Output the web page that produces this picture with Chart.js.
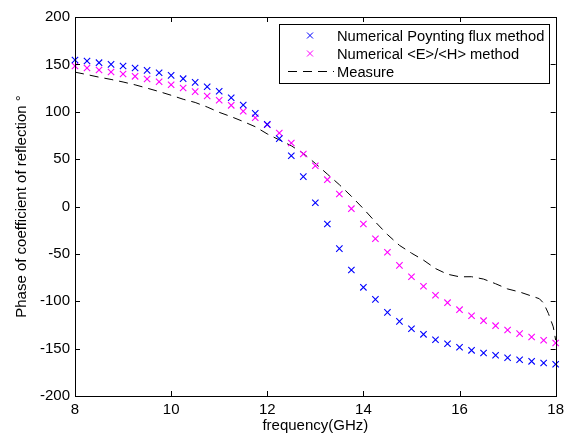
<!DOCTYPE html>
<html>
<head>
<meta charset="utf-8">
<script src="https://cdn.jsdelivr.net/npm/chart.js@4/dist/chart.umd.min.js"></script>
<style>
  html, body { margin: 0; padding: 0; background: #fff; }
  #wrap { width: 569px; height: 435px; }
</style>
</head>
<body>
<div id="wrap"><canvas id="phaseChart"></canvas></div>
<script>
// Frequencies (GHz) for the two numerical series
const freqs = [8, 8.25, 8.5, 8.75, 9, 9.25, 9.5, 9.75, 10, 10.25, 10.5, 10.75, 11, 11.25, 11.5, 11.75,
  12, 12.25, 12.5, 12.75, 13, 13.25, 13.5, 13.75, 14, 14.25, 14.5, 14.75, 15, 15.25, 15.5, 15.75,
  16, 16.25, 16.5, 16.75, 17, 17.25, 17.5, 17.75, 18];

// Numerical Poynting flux method (blue x)
const poynting = [154.6, 153.6, 151.8, 150, 148.3, 146.2, 143.7, 141.2, 138.4, 134.9, 131, 126.4, 121.6, 114.8, 107.1, 98.3,
  86.7, 71.6, 53.6, 31.5, 4, -18.5, -44.5, -67, -85.3, -98, -111.7, -121.2, -129, -134.9, -140.6, -144.8,
  -148.6, -151.8, -154.6, -157, -159.6, -161.7, -163.4, -165.2, -166.5];

// Numerical <E>/<H> method (magenta x)
const eOverH = [148.3, 146.2, 144.1, 142, 139.8, 137.4, 134.6, 131.7, 128.5, 125.1, 121.2, 116.6, 112.1, 106.8, 100.5, 93.7,
  86.3, 77.6, 67, 55.4, 43, 28.3, 13.2, -2.3, -18.5, -34, -48.3, -62.1, -74.1, -84.2, -93.7, -101.5,
  -108.9, -115.3, -120.5, -125.8, -130.3, -134.2, -137.7, -141.2, -144.1];

// Measure (dashed black)
const measureFreqs = [8, 8.25, 8.5, 8.75, 9, 9.25, 9.5, 9.75, 10, 10.25, 10.5, 10.75, 11, 11.25, 11.5, 11.75,
  12, 12.25, 12.5, 12.75, 13, 13.25, 13.5, 13.75, 14, 14.25, 14.5, 14.75, 15, 15.25, 15.5, 15.75,
  16, 16.25, 16.5, 16.75, 17, 17.25, 17.5, 17.66, 17.75, 17.85, 17.95, 18];
const measure = [141.8, 139.2, 136.5, 134.1, 131.4, 128.4, 124.9, 121.3, 117.4, 113.2, 109.8, 105, 99.4, 94.8, 89.7, 84.2,
  76.6, 70.3, 64.1, 56, 45.5, 34.2, 23, 10.8, -2.3, -16.3, -29.6, -41, -49.2, -56.6, -65.5, -71.5,
  -74.2, -74.1, -76.6, -81.5, -87, -90.2, -94.5, -97.3, -102, -113, -127, -141];

const xTicks = [8, 10, 12, 14, 16, 18];
const yTicks = [-200, -150, -100, -50, 0, 50, 100, 150, 200];

const FONT = 'Liberation Sans, Arial, Helvetica, sans-serif';
const FONT_SIZE = 15;

const toPoints = (xs, ys) => xs.map((x, i) => ({ x, y: ys[i] }));

// Box around the axes with inward ticks, MATLAB style
const axesBox = {
  id: 'axesBox',
  afterDraw(chart) {
    const { ctx, chartArea: a, scales: { x, y } } = chart;
    ctx.save();
    ctx.strokeStyle = '#000';
    ctx.lineWidth = 1;
    ctx.strokeRect(Math.round(a.left) + 0.5, Math.round(a.top) + 0.5,
      Math.round(a.right - a.left), Math.round(a.bottom - a.top));
    ctx.beginPath();
    xTicks.forEach(v => {
      const px = Math.round(x.getPixelForValue(v)) + 0.5;
      ctx.moveTo(px, a.bottom); ctx.lineTo(px, a.bottom - 5);
      ctx.moveTo(px, a.top); ctx.lineTo(px, a.top + 5);
    });
    yTicks.forEach(v => {
      const py = Math.round(y.getPixelForValue(v)) + 0.5;
      ctx.moveTo(a.left, py); ctx.lineTo(a.left + 5, py);
      ctx.moveTo(a.right, py); ctx.lineTo(a.right - 5, py);
    });
    ctx.stroke();
    ctx.restore();
  }
};

// Legend box inside the plot, top right
const boxLegend = {
  id: 'boxLegend',
  afterDraw(chart) {
    const ctx = chart.ctx;
    const left = 279.5, top = 24.5, w = 270, h = 59;
    const rows = [35.5, 53.5, 71.5];
    ctx.save();
    ctx.fillStyle = '#fff';
    ctx.fillRect(left, top, w, h);
    ctx.strokeStyle = '#000';
    ctx.lineWidth = 1;
    ctx.strokeRect(left, top, w, h);
    ctx.font = '14.7px ' + FONT;
    ctx.textBaseline = 'middle';
    chart.data.datasets.forEach((ds, i) => {
      const cy = rows[i];
      ctx.strokeStyle = ds.borderColor;
      ctx.beginPath();
      if (ds.showLine) {
        ctx.setLineDash(ds.borderDash);
        ctx.moveTo(288, cy); ctx.lineTo(334, cy);
        ctx.stroke();
        ctx.setLineDash([]);
      } else {
        ctx.moveTo(307, cy - 3); ctx.lineTo(313, cy + 3);
        ctx.moveTo(307, cy + 3); ctx.lineTo(313, cy - 3);
        ctx.stroke();
      }
      ctx.fillStyle = '#000';
      ctx.fillText(ds.label, 337, cy + 1);
    });
    ctx.restore();
  }
};

const markerSet = (label, color, ys) => ({
  label,
  data: toPoints(freqs, ys),
  showLine: false,
  pointStyle: 'crossRot',
  pointRadius: 4.5,
  pointBorderWidth: 1.1,
  borderColor: color,
  backgroundColor: color,
  clip: false
});

new Chart(document.getElementById('phaseChart'), {
  type: 'scatter',
  data: {
    datasets: [
      markerSet('Numerical Poynting flux method', '#0000ff', poynting),
      markerSet('Numerical <E>/<H> method', '#ff00ff', eOverH),
      {
        label: 'Measure',
        data: toPoints(measureFreqs, measure),
        showLine: true,
        borderColor: '#000',
        borderWidth: 1,
        borderDash: [9, 6],
        pointRadius: 0,
        tension: 0,
        clip: false
      }
    ]
  },
  options: {
    responsive: true,
    maintainAspectRatio: false,
    animation: false,
    layout: { padding: { left: 0, right: 12, top: 17, bottom: 0 } },
    plugins: { legend: { display: false }, tooltip: { enabled: false } },
    scales: {
      x: {
        type: 'linear', min: 8, max: 18,
        afterBuildTicks: s => { s.ticks = xTicks.map(value => ({ value })); },
        afterFit: s => { s.height = 39; },
        grid: { display: false, drawTicks: false },
        border: { display: false },
        ticks: { color: '#000', padding: 5, font: { family: FONT, size: FONT_SIZE }, maxRotation: 0 },
        title: { display: true, text: 'frequency(GHz)', color: '#000',
          font: { family: FONT, size: FONT_SIZE }, padding: { top: 0, bottom: 0 } }
      },
      y: {
        type: 'linear', min: -200, max: 200,
        afterBuildTicks: s => { s.ticks = yTicks.map(value => ({ value })); },
        afterFit: s => { s.width = 75; },
        grid: { display: false, drawTicks: false },
        border: { display: false },
        ticks: { color: '#000', padding: 5, font: { family: FONT, size: FONT_SIZE } },
        title: { display: true, text: 'Phase of coefficient of reflection °', color: '#000',
          font: { family: FONT, size: FONT_SIZE }, padding: { top: 13, bottom: 0 } }
      }
    }
  },
  plugins: [axesBox, boxLegend]
});
</script>
</body>
</html>
